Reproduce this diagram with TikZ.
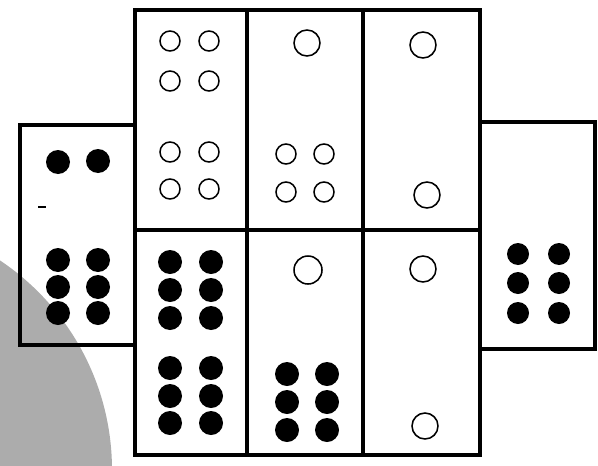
\documentclass[tikz,border=0pt]{standalone}
\begin{document}
\begin{tikzpicture}[x=0.05cm, y=-0.05cm,
    frame/.style={line width=5pt, line cap=rect},
    pip/.style={fill=black},
    hole/.style={draw=black, line width=2.2pt}]
    \useasboundingbox (0,0) rectangle (598,465);

    % Draw the gray disc
    \begin{scope}
        \clip (0,0) rectangle (598,465);
        \fill[gray!65] (-140,470) circle (252);
    \end{scope}

    % Draw the left domino
    \draw[frame] (135,125) -- (20,125) -- (20,345) -- (135,345);
    \draw[line width=2pt] (38,207) -- (46,207);
    \fill[pip] (58,162) circle (12);
    \fill[pip] (98,161) circle (12);
    \foreach \y in {260,287,313} {
        \fill[pip] (58,\y) circle (12);
        \fill[pip] (98,\y) circle (12);
    }

    % Draw the middle block of six dominoes
    \draw[frame] (135,10) rectangle (480,455);
    \draw[frame] (135,230) -- (480,230);
    \draw[frame] (247,10) -- (247,455);
    \draw[frame] (363,10) -- (363,455);

    % Draw the right domino
    \draw[frame] (480,122) -- (595,122) -- (595,349) -- (480,349);
    \foreach \y in {254,283,313} {
        \fill[pip] (518,\y) circle (11);
        \fill[pip] (559,\y) circle (11);
    }

    % Upper row: hollow pips
    \foreach \y in {41,81,152,189} {
        \draw[hole] (170,\y) circle (10);
        \draw[hole] (209,\y) circle (10);
    }
    \draw[hole] (307,43) circle (13);
    \foreach \y in {154,192} {
        \draw[hole] (286,\y) circle (10);
        \draw[hole] (324,\y) circle (10);
    }
    \draw[hole] (423,45) circle (13);
    \draw[hole] (427,195) circle (13);

    % Lower row: solid pips
    \foreach \y in {262,290,318,368,396,423} {
        \fill[pip] (170,\y) circle (12);
        \fill[pip] (211,\y) circle (12);
    }
    \draw[hole] (308,270) circle (14);
    \foreach \y in {374,402,430} {
        \fill[pip] (287,\y) circle (12);
        \fill[pip] (327,\y) circle (12);
    }
    \draw[hole] (423,269) circle (13);
    \draw[hole] (425,426) circle (13);
\end{tikzpicture}
\end{document}
